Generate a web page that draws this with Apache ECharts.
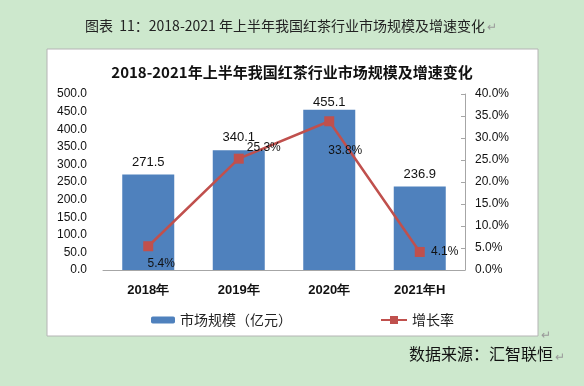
<!DOCTYPE html>
<html><head><meta charset="utf-8">
<script src="https://cdn.jsdelivr.net/npm/echarts@6/dist/echarts.min.js"></script>
<style>html,body{margin:0;padding:0;background:#cde8cd;}#c{width:584px;height:386px;}</style>
</head><body><div id="c"></div>
<script>
const categories = ['2018年', '2019年', '2020年', '2021年H'];
const marketSize = [271.5, 340.1, 455.1, 236.9];
const growthRate = [5.4, 25.3, 33.8, 4.1];
const leftTicks = [0, 50, 100, 150, 200, 250, 300, 350, 400, 450, 500];
const rightTicks = [0, 5, 10, 15, 20, 25, 30, 35, 40];

const cjk = '"Noto Sans CJK SC", sans-serif';
const num = '"Liberation Sans", Arial, sans-serif';
const rateOffsets = [[13, 17], [25, -11], [16, 29], [25, 0]];
const barDist = [6, 6, 1, 6];

const chart = echarts.init(document.getElementById('c'));
chart.setOption({
  backgroundColor: '#cde8cd',
  animation: false,
  graphic: [
    { type: 'rect', shape: { x: 47, y: 49, width: 491, height: 287 }, style: { fill: '#ffffff', stroke: '#b4b4b4', lineWidth: 1 }, z: -10 },
    { type: 'text', left: 85, top: 19, style: { text: '图表  11：2018-2021 年上半年我国红茶行业市场规模及增速变化', font: '14px ' + cjk, fill: '#222' } },
    { type: 'text', left: 487, top: 20, style: { text: '↵', font: '12px ' + cjk, fill: '#999' } },
    { type: 'text', left: 541, top: 328, style: { text: '↵', font: '12px ' + cjk, fill: '#999' } },
    { type: 'text', left: 409, top: 346, style: { text: '数据来源：汇智联恒', font: '16px ' + cjk, fill: '#111' } },
    { type: 'text', left: 555, top: 350, style: { text: '↵', font: '12px ' + cjk, fill: '#999' } }
  ],
  title: {
    text: '2018-2021年上半年我国红茶行业市场规模及增速变化',
    left: 'center', top: 60,
    textStyle: { fontFamily: cjk, fontSize: 15, fontWeight: 'bold', color: '#111' }
  },
  legend: [
    { data: ['市场规模（亿元）'], left: 146, top: 308, itemWidth: 24, itemHeight: 7,
      textStyle: { fontFamily: cjk, fontSize: 14, color: '#222' } },
    { data: ['增长率'], left: 375, top: 308, itemWidth: 26, itemHeight: 10,
      textStyle: { fontFamily: cjk, fontSize: 14, color: '#222' } }
  ],
  grid: { left: 103, right: 119, top: 94, bottom: 116, containLabel: false },
  xAxis: {
    type: 'category', data: categories,
    axisLine: { lineStyle: { color: '#a6a6a6', width: 1 } },
    axisTick: { show: false },
    axisLabel: { fontFamily: num, fontSize: 13, fontWeight: 'bold', color: '#111', margin: 14 }
  },
  yAxis: [
    { type: 'value', min: leftTicks[0], max: leftTicks[leftTicks.length - 1], interval: 50,
      axisLine: { show: false }, axisTick: { show: false }, splitLine: { show: false },
      axisLabel: { fontFamily: num, fontSize: 12, color: '#111', margin: 16, formatter: v => v.toFixed(1) } },
    { type: 'value', min: rightTicks[0], max: rightTicks[rightTicks.length - 1], interval: 5, position: 'right',
      axisLine: { show: true, lineStyle: { color: '#a6a6a6' } },
      axisTick: { show: true, inside: true, length: 4, lineStyle: { color: '#a6a6a6' } },
      splitLine: { show: false },
      axisLabel: { fontFamily: num, fontSize: 12, color: '#111', margin: 10, formatter: v => v.toFixed(1) + '%' } }
  ],
  series: [
    { name: '市场规模（亿元）', type: 'bar', barWidth: 52,
      itemStyle: { color: '#4f81bd' },
      data: marketSize.map((v, i) => ({ value: v, label: { distance: barDist[i] } })),
      label: { show: true, position: 'top', fontFamily: num, fontSize: 13, color: '#111', formatter: p => p.value.toFixed(1) } },
    { name: '增长率', type: 'line', yAxisIndex: 1,
      symbol: 'rect', symbolSize: 10,
      lineStyle: { color: '#c0504d', width: 2.5 },
      itemStyle: { color: '#c0504d' },
      data: growthRate.map((v, i) => ({ value: v, label: { offset: rateOffsets[i] } })),
      label: { show: true, position: 'inside', fontFamily: num, fontSize: 12, color: '#111', formatter: p => p.value.toFixed(1) + '%' } }
  ]
});
</script></body></html>
